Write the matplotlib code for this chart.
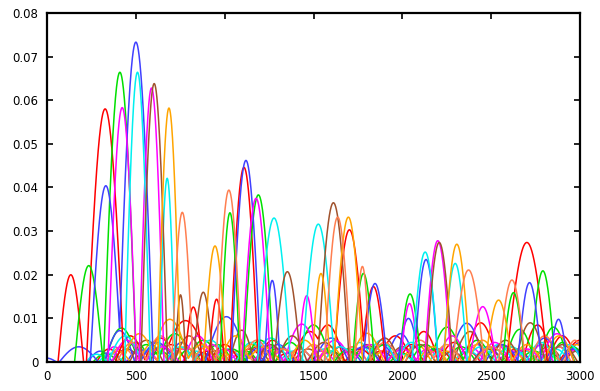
import numpy as np
import matplotlib
matplotlib.use("Agg")
import matplotlib.pyplot as plt

# hump tables: (centre x, half width, peak height)
red_peaks = [(135, 72, 0.0200), (328, 105, 0.0580), (824, 50, 0.0126), (955, 44, 0.0144),
             (1109, 80, 0.0446), (1702, 88, 0.0303), (1837, 68, 0.0173), (2700, 115, 0.0274)]
red_low = [(470, 85, 0.0060), (640, 95, 0.0055), (780, 130, 0.0095), (1000, 85, 0.0040),
           (1270, 85, 0.0050), (1480, 100, 0.0070), (1580, 95, 0.0085), (1760, 85, 0.0030),
           (1960, 95, 0.0060), (2120, 85, 0.0070), (2290, 85, 0.0045), (2440, 95, 0.0090),
           (2560, 80, 0.0040), (2760, 85, 0.0085), (2900, 85, 0.0060), (3000, 100, 0.0050)]
red_low2 = [(350, 70, 0.0030), (560, 70, 0.0020), (700, 85, 0.0040), (900, 70, 0.0025),
            (1140, 85, 0.0030), (1350, 70, 0.0020), (1650, 70, 0.0035), (1880, 85, 0.0025),
            (2050, 70, 0.0040), (2200, 85, 0.0030), (2370, 70, 0.0025), (2640, 85, 0.0030),
            (2830, 70, 0.0020), (2950, 70, 0.0030)]

green_peaks = [(236, 80, 0.0221), (411, 92, 0.0664), (1030, 56, 0.0342), (1190, 85, 0.0383),
               (1781, 62, 0.0203), (2043, 62, 0.0156), (2625, 62, 0.0159), (2790, 69, 0.0209)]
green_low = [(420, 95, 0.0078), (560, 85, 0.0040), (720, 100, 0.0065), (880, 95, 0.0050),
             (1040, 85, 0.0030), (1200, 85, 0.0050), (1370, 85, 0.0045), (1500, 100, 0.0085),
             (1700, 85, 0.0030), (1900, 95, 0.0040), (2130, 85, 0.0040), (2250, 95, 0.0080),
             (2420, 85, 0.0050), (2660, 85, 0.0075), (2850, 85, 0.0080), (2960, 70, 0.0035)]
green_low2 = [(330, 70, 0.0020), (500, 85, 0.0045), (640, 70, 0.0025), (800, 70, 0.0030),
              (960, 85, 0.0040), (1120, 70, 0.0025), (1290, 85, 0.0030), (1600, 85, 0.0025),
              (1800, 70, 0.0035), (2000, 70, 0.0020), (2330, 85, 0.0035), (2520, 70, 0.0030),
              (2740, 85, 0.0025), (2900, 70, 0.0045)]

blue_peaks = [(332, 88, 0.0404), (501, 98, 0.0733), (1120, 83, 0.0462), (1268, 44, 0.0187),
              (1846, 68, 0.0180), (2034, 62, 0.0100), (2133, 68, 0.0235), (2715, 67, 0.0182),
              (2878, 50, 0.0098)]
blue_low = [(0, 55, 0.0009), (180, 110, 0.0035), (410, 85, 0.0072), (620, 95, 0.0045),
            (1010, 120, 0.0104), (1300, 95, 0.0040), (1600, 100, 0.0055), (1780, 95, 0.0035),
            (1990, 85, 0.0065), (2362, 100, 0.0089), (2560, 95, 0.0040), (2800, 85, 0.0055),
            (2960, 70, 0.0030)]
blue_low2 = [(300, 70, 0.0025), (520, 70, 0.0030), (760, 85, 0.0045), (880, 70, 0.0020),
             (1200, 85, 0.0035), (1420, 85, 0.0030), (1700, 70, 0.0025), (1880, 85, 0.0040),
             (2180, 70, 0.0030), (2480, 85, 0.0035), (2650, 70, 0.0025), (2880, 85, 0.0035),
             (3000, 85, 0.0045)]

magenta_peaks = [(424, 80, 0.0583), (589, 70, 0.0628), (1177, 80, 0.0375), (1462, 50, 0.0152),
                 (2040, 50, 0.0134), (2199, 75, 0.0278), (2452, 75, 0.0127)]
magenta_low = [(450, 85, 0.0050), (650, 95, 0.0035), (850, 85, 0.0060), (1000, 70, 0.0030),
               (1250, 85, 0.0040), (1434, 100, 0.0087), (1620, 95, 0.0050), (1820, 95, 0.0040),
               (2000, 85, 0.0030), (2280, 85, 0.0060), (2520, 85, 0.0045), (2700, 85, 0.0030),
               (2870, 95, 0.0065)]
magenta_low2 = [(380, 70, 0.0035), (560, 70, 0.0025), (760, 85, 0.0030), (930, 70, 0.0040),
                (1100, 85, 0.0020), (1330, 70, 0.0030), (1540, 85, 0.0025), (1720, 85, 0.0035),
                (1920, 70, 0.0025), (2140, 70, 0.0030), (2380, 85, 0.0035), (2620, 85, 0.0025),
                (2780, 70, 0.0040), (2980, 70, 0.0030)]

cyan_peaks = [(510, 72, 0.0664), (677, 45, 0.0421), (1278, 93, 0.0330), (1527, 91, 0.0316),
              (2128, 75, 0.0252), (2297, 68, 0.0226)]
cyan_low = [(280, 60, 0.0018), (440, 95, 0.0060), (750, 85, 0.0035), (920, 95, 0.0050),
            (1150, 85, 0.0045), (1260, 100, 0.0055), (1650, 95, 0.0035), (1880, 85, 0.0050),
            (2050, 85, 0.0045), (2440, 85, 0.0035), (2610, 95, 0.0035), (2780, 85, 0.0045),
            (2940, 70, 0.0040)]
cyan_low2 = [(360, 70, 0.0020), (600, 85, 0.0035), (840, 70, 0.0025), (1020, 85, 0.0030),
             (1380, 70, 0.0025), (1560, 85, 0.0030), (1760, 70, 0.0045), (1980, 85, 0.0020),
             (2220, 70, 0.0030), (2370, 85, 0.0025), (2540, 85, 0.0040), (2700, 70, 0.0025),
             (2860, 85, 0.0030)]

brown_peaks = [(604, 75, 0.0638), (752, 30, 0.0154), (880, 56, 0.0160), (1353, 75, 0.0207),
               (1612, 89, 0.0365), (2207, 75, 0.0274)]
brown_low = [(560, 95, 0.0050), (800, 85, 0.0060), (1096, 70, 0.0073), (1260, 85, 0.0040),
             (1380, 85, 0.0060), (1560, 95, 0.0045), (1900, 85, 0.0055), (2100, 85, 0.0040),
             (2380, 95, 0.0070), (2580, 85, 0.0050), (2719, 85, 0.0090), (2900, 85, 0.0040)]
brown_low2 = [(450, 85, 0.0030), (650, 70, 0.0040), (950, 85, 0.0025), (1180, 70, 0.0035),
              (1470, 85, 0.0030), (1700, 70, 0.0025), (1800, 85, 0.0040), (2000, 85, 0.0035),
              (2280, 70, 0.0025), (2480, 85, 0.0030), (2820, 85, 0.0035), (2980, 70, 0.0025)]

orange_peaks = [(687, 64, 0.0582), (946, 65, 0.0266), (1542, 50, 0.0203), (1696, 81, 0.0332),
                (2306, 75, 0.0270), (2541, 75, 0.0142)]
orange_low = [(520, 95, 0.0065), (692, 110, 0.0098), (870, 85, 0.0040), (1060, 85, 0.0060),
              (1220, 95, 0.0035), (1450, 85, 0.0050), (1800, 95, 0.0066), (2170, 85, 0.0035),
              (2450, 85, 0.0050), (2700, 85, 0.0040), (2880, 85, 0.0060)]
orange_low2 = [(400, 70, 0.0025), (600, 85, 0.0045), (780, 70, 0.0035), (980, 70, 0.0025),
               (1150, 85, 0.0040), (1320, 85, 0.0030), (1600, 70, 0.0035), (1900, 85, 0.0025),
               (2080, 85, 0.0040), (2250, 70, 0.0025), (2600, 85, 0.0035), (2800, 85, 0.0025),
               (2980, 85, 0.0040)]

coral_peaks = [(762, 59, 0.0343), (1024, 71, 0.0394), (1636, 75, 0.0332), (1775, 44, 0.0219),
               (2372, 88, 0.0211), (2616, 75, 0.0188)]
coral_low = [(480, 85, 0.0045), (640, 85, 0.0060), (900, 85, 0.0035), (1180, 85, 0.0050),
             (1330, 85, 0.0030), (1500, 85, 0.0040), (1900, 85, 0.0045), (2100, 85, 0.0050),
             (2250, 85, 0.0040), (2500, 95, 0.0035), (2800, 85, 0.0060), (2970, 60, 0.0050)]
coral_low2 = [(420, 85, 0.0035), (560, 70, 0.0020), (780, 85, 0.0035), (1080, 85, 0.0025),
              (1260, 70, 0.0035), (1420, 85, 0.0030), (1580, 70, 0.0025), (1720, 85, 0.0035),
              (2000, 85, 0.0030), (2180, 70, 0.0025), (2420, 85, 0.0040), (2680, 85, 0.0030),
              (2880, 70, 0.0035)]

series = [
    ("#ff0000", red_peaks, red_low, red_low2),
    ("#00e000", green_peaks, green_low, green_low2),
    ("#4040ff", blue_peaks, blue_low, blue_low2),
    ("#ff00ff", magenta_peaks, magenta_low, magenta_low2),
    ("#00f0f0", cyan_peaks, cyan_low, cyan_low2),
    ("#a0522d", brown_peaks, brown_low, brown_low2),
    ("#ffa500", orange_peaks, orange_low, orange_low2),
    ("#ff7f50", coral_peaks, coral_low, coral_low2),
]

x_ticks = [0, 500, 1000, 1500, 2000, 2500, 3000]
y_ticks = [0, 0.01, 0.02, 0.03, 0.04, 0.05, 0.06, 0.07, 0.08]


def hump_curve(x, humps):
    # each hump is a plain sine arch between centre-hw and centre+hw
    y = np.zeros_like(x)
    for c, hw, h in humps:
        u = (x - (c - hw)) / (2 * hw)
        inside = (u >= 0) & (u <= 1)
        y = np.where(inside, np.maximum(y, h * np.sin(np.pi * np.clip(u, 0, 1))), y)
    return y


x = np.linspace(0, 3000, 3001)

fig = plt.figure(figsize=(6, 3.91), dpi=100)
ax = fig.add_axes([0.078, 0.074, 0.889, 0.893])

# low clutter first, tall arches on top
for color, peaks, low, low2 in series:
    ax.plot(x, hump_curve(x, low2), color=color, lw=1.1)
for color, peaks, low, low2 in series:
    ax.plot(x, hump_curve(x, low), color=color, lw=1.1)
for color, peaks, low, low2 in series:
    ax.plot(x, hump_curve(x, peaks), color=color, lw=1.1)

ax.set_xlim(0, 3000)
ax.set_ylim(0, 0.08)
ax.set_xticks(x_ticks)
ax.set_yticks(y_ticks)
ax.set_yticklabels(["0" if v == 0 else f"{v:.2f}" for v in y_ticks])
ax.tick_params(direction="in", length=4, width=1.2, top=True, right=True,
               labelsize=8.5, pad=6)
for sp in ax.spines.values():
    sp.set_linewidth(1.6)

fig.savefig("out.png", dpi=100)
